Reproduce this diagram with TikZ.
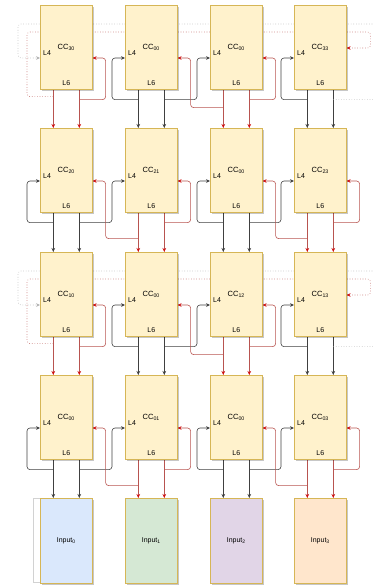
\documentclass[tikz,border=0pt]{standalone}
\usepackage{fontspec}
\setmainfont{Liberation Sans}
\usetikzlibrary{positioning, calc, arrows.meta, shadows, backgrounds}
\definecolor{cellFill}{HTML}{FFF2CC}
\definecolor{cellLine}{HTML}{D6B656}
\definecolor{linkRed}{HTML}{B85450}
\definecolor{tipRed}{HTML}{D01010}
\definecolor{inBlue}{HTML}{DAE8FC}
\definecolor{inGreen}{HTML}{D5E8D4}
\definecolor{inPurple}{HTML}{E1D5E7}
\definecolor{inOrange}{HTML}{FFE6CC}

\begin{document}
\begin{tikzpicture}[
    % x=1pt, y=-1pt: one unit = one pixel of the sheet, y grows downwards
    x=1pt, y=-1pt,
    boxbase/.style={draw=cellLine, fill=cellFill, line width=0.6pt,
                    anchor=north west, inner sep=0pt,
                    minimum width=52pt, minimum height=84pt,
                    font=\fontsize{7.5}{9}\selectfont,
                    drop shadow={shadow xshift=1.5pt, shadow yshift=-1.5pt,
                                 fill=black, opacity=.22}},
    cell/.style={boxbase,
                 label={[anchor=west, inner sep=1pt, xshift=2pt, yshift=-6pt,
                         font=\fontsize{7}{8}\selectfont]west:L4},
                 label={[anchor=south, inner sep=1pt, yshift=2.5pt,
                         font=\fontsize{7}{8}\selectfont]south:L6}},
    inbox/.style={boxbase, minimum height=85pt, font=\fontsize{7}{8}\selectfont},
    ghost/.style={draw=gray!35, line width=0.6pt, anchor=north west,
                  minimum width=30pt, minimum height=84pt},
    fwd/.style={draw=black!75, line width=0.6pt, rounded corners=3pt,
                -{Stealth[length=4pt, width=3.6pt]}},
    back/.style={draw=linkRed, line width=0.6pt, rounded corners=3pt,
                 -{Stealth[length=4pt, width=3.6pt, color=tipRed]}},
    wrapfwd/.style={fwd, draw=gray!60, dotted},
    wrapback/.style={back, dotted},
    down0/.style={back},
    down1/.style={fwd}
  ]
  \useasboundingbox (0,0) rectangle (373,586);

  % ── Stage 3 (top row) ───────────────────────────────────────────────────
  \node[cell] (n00) at ( 40,5) {CC\textsubscript{30}};
  \node[cell] (n01) at (125,5) {CC\textsubscript{00}};
  \node[cell] (n02) at (210,5) {CC\textsubscript{00}};
  \node[cell] (n03) at (294,5) {CC\textsubscript{33}};

  % ── Stage 2 ─────────────────────────────────────────────────────────────
  \node[cell] (n10) at ( 40,128) {CC\textsubscript{20}};
  \node[cell] (n11) at (125,128) {CC\textsubscript{21}};
  \node[cell] (n12) at (210,128) {CC\textsubscript{00}};
  \node[cell] (n13) at (294,128) {CC\textsubscript{23}};

  % ── Stage 1 ─────────────────────────────────────────────────────────────
  \node[cell] (n20) at ( 40,252) {CC\textsubscript{10}};
  \node[cell] (n21) at (125,252) {CC\textsubscript{00}};
  \node[cell] (n22) at (210,252) {CC\textsubscript{12}};
  \node[cell] (n23) at (294,252) {CC\textsubscript{13}};

  % ── Stage 0 ─────────────────────────────────────────────────────────────
  \node[cell] (n30) at ( 40,375) {CC\textsubscript{00}};
  \node[cell] (n31) at (125,375) {CC\textsubscript{01}};
  \node[cell] (n32) at (210,375) {CC\textsubscript{00}};
  \node[cell] (n33) at (294,375) {CC\textsubscript{03}};

  % ── Inputs ──────────────────────────────────────────────────────────────
  \node[ghost] (in0back) at (33,498) {};
  \node[inbox, fill=inBlue]   (in0) at ( 40,498) {Input\textsubscript{0}};
  \node[inbox, fill=inGreen]  (in1) at (125,498) {Input\textsubscript{1}};
  \node[inbox, fill=inPurple] (in2) at (210,498) {Input\textsubscript{2}};
  \node[inbox, fill=inOrange] (in3) at (294,498) {Input\textsubscript{3}};

  % ports: two outputs under each cell, L4 / right inputs on its sides
  \foreach \r in {0,...,3}{
    \foreach \c in {0,...,3}{
      \coordinate (lo\r\c) at ($(n\r\c.south)+(-13,0)$);
      \coordinate (ro\r\c) at ($(n\r\c.south)+(13,0)$);
      \coordinate (li\r\c) at ($(n\r\c.north west)+(0,53)$);
      \coordinate (ri\r\c) at ($(n\r\c.north east)+(0,53)$);
    }
    \coordinate (wi\r) at ($(n\r3.north east)+(0,43)$);
  }

  \begin{scope}[on background layer]
  % outputs straight down into the stage below
  \foreach \r/\nx in {0/n1, 1/n2, 2/n3, 3/in}{
    \foreach \c in {0,...,3}{
      \pgfmathtruncatemacro\odd{mod(\r+\c,2)}
      \draw[down\odd] (lo\r\c) -- (lo\r\c |- \nx\c.north);
      \draw[down\odd] (ro\r\c) -- (ro\r\c |- \nx\c.north);
    }
  }

  % stages 3 and 1: pairs 1-2 and 3-0 (wrapped round the sheet)
  \foreach \r in {0,2}{
    \draw[back] ($(ro\r0)+(0,10)$) -| ($(ri\r0)+(13,0)$) -- (ri\r0);
    \draw[fwd]  ($(lo\r1)+(0,10)$) -| ($(li\r1)+(-13,0)$) -- (li\r1);
    \draw[back] ($(ro\r2)+(0,10)$) -| ($(ri\r2)+(13,0)$) -- (ri\r2);
    \draw[fwd]  ($(lo\r3)+(0,10)$) -| ($(li\r3)+(-13,0)$) -- (li\r3);
    \draw[fwd]  ($(ro\r1)+(0,10)$) -| ($(li\r2)+(-13,0)$) -- (li\r2);
    \draw[back] ($(lo\r2)+(0,18)$) -| ($(ri\r1)+(13,0)$) -- (ri\r1);
    \draw[wrapfwd] ($(ro\r3)+(0,10)$) -| ($(n\r3.north east)+(40,19)$)
                   -| ($(li\r0)+(-22,0)$) -- (li\r0);
    \draw[wrapback] ($(lo\r0)+(0,7)$) -| ($(n\r0.north west)+(-13,27)$)
                    -| ($(wi\r)+(24,0)$) -- (wi\r);
  }

  % stages 2 and 0: pairs 0-1 and 2-3
  \foreach \r in {1,3}{
    \foreach \a/\b in {0/1, 2/3}{
      \draw[fwd]  ($(lo\r\a)+(0,10)$) -| ($(li\r\a)+(-13,0)$) -- (li\r\a);
      \draw[fwd]  ($(ro\r\a)+(0,10)$) -| ($(li\r\b)+(-13,0)$) -- (li\r\b);
      \draw[back] ($(lo\r\b)+(0,26)$) -| ($(ri\r\a)+(13,0)$) -- (ri\r\a);
      \draw[back] ($(ro\r\b)+(0,10)$) -| ($(ri\r\b)+(13,0)$) -- (ri\r\b);
    }
  }
  \end{scope}
\end{tikzpicture}
\end{document}
